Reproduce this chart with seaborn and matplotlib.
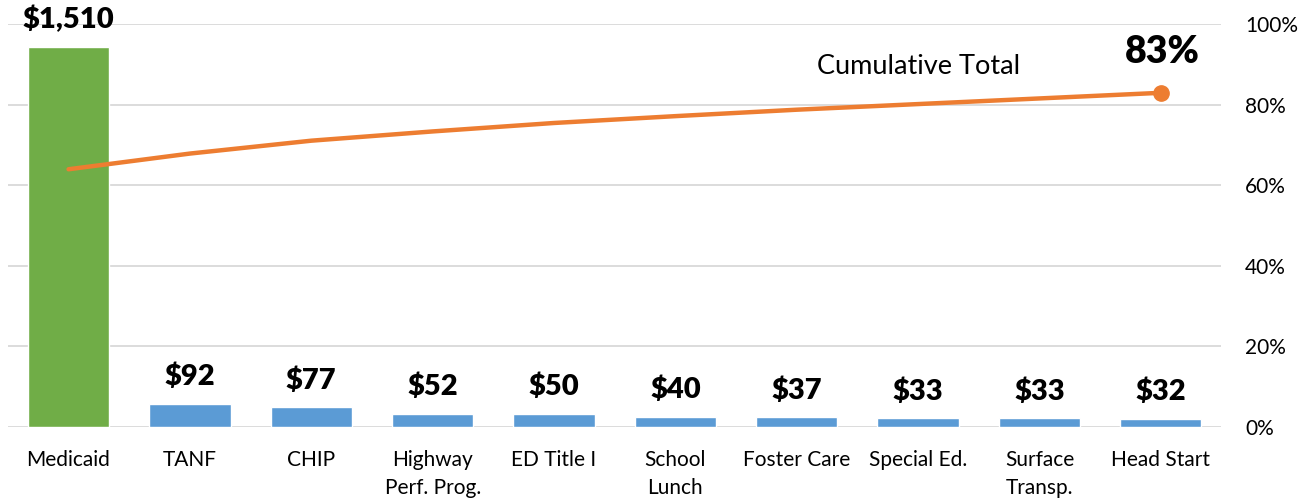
import matplotlib
matplotlib.use("Agg")
import matplotlib.pyplot as plt
import seaborn as sns
import pandas as pd
from matplotlib.ticker import PercentFormatter

# ── Data ──────────────────────────────────────────────────────
programs = ['Medicaid', 'TANF', 'CHIP', 'Highway\nPerf. Prog.', 'ED Title I',
            'School\nLunch', 'Foster Care', 'Special Ed.', 'Surface\nTransp.',
            'Head Start']
spending = [1510, 92, 77, 52, 50, 40, 37, 33, 33, 32]
cumulative_pct = [64.0, 67.9, 71.1, 73.4, 75.5, 77.2, 78.8, 80.2, 81.6, 83.0]
bar_colors = ['#70AD47'] + ['#5B9BD5'] * 9

df = pd.DataFrame({'program': programs, 'spending': spending,
                   'cum': cumulative_pct})

sns.set_style("white")
plt.rcParams['font.family'] = ['Lato', 'DejaVu Sans']
plt.rcParams['text.color'] = 'black'

fig, ax = plt.subplots(figsize=(13.12, 4.98), dpi=100)
fig.subplots_adjust(left=0.006, right=0.931, bottom=0.143, top=0.951)

ax2 = ax.twinx()

# gridlines belong to the percent axis
ax2.set_ylim(0, 100)
ax2.set_yticks([0, 20, 40, 60, 80, 100])
ax2.yaxis.set_major_formatter(PercentFormatter(decimals=0))
ax2.grid(axis='y', color='#D9D9D9', linewidth=1.3)
ax2.tick_params(axis='y', length=0, labelsize=15, pad=17, colors='black')

# bars
sns.barplot(data=df, x='program', y='spending', hue='program',
            palette=bar_colors, saturation=1, legend=False, width=0.67,
            ax=ax, zorder=3)
ax.set_ylim(0, 1600)
ax.set_yticks([])
ax.set_xlabel('')
ax.set_ylabel('')
ax.tick_params(axis='x', length=0, labelsize=15, pad=17, colors='black')
for lbl in ax.get_xticklabels():
    lbl.set_linespacing(1.45)
ax.set_xlim(-0.5, len(programs) - 0.5)

for i, v in enumerate(spending):
    ax.annotate(f'${v:,}', (i, v), xytext=(0, 10), textcoords='offset points',
                ha='center', va='bottom', fontsize=21, fontweight='heavy')

# cumulative line on top of the bars
ax.set_zorder(ax2.get_zorder() + 1)
ax.patch.set_visible(False)
ax3 = ax.twinx()
ax3.set_ylim(0, 100)
ax3.axis('off')
sns.lineplot(x=list(range(len(programs))), y=cumulative_pct, ax=ax3,
             color='#ED7D31', linewidth=3.2)
ax3.plot(len(programs) - 1, cumulative_pct[-1], 'o', color='#ED7D31',
         markersize=11)
ax3.annotate(f'{cumulative_pct[-1]:.0f}%', (len(programs) - 1, cumulative_pct[-1]),
             xytext=(1, 17), textcoords='offset points', ha='center',
             va='bottom', fontsize=27, fontweight='heavy')
ax3.text(7.0, 89.6, 'Cumulative Total', ha='center', va='center', fontsize=19.5)

for a in (ax, ax2, ax3):
    for s in a.spines.values():
        s.set_visible(False)

plt.savefig('out.png', dpi=100)
